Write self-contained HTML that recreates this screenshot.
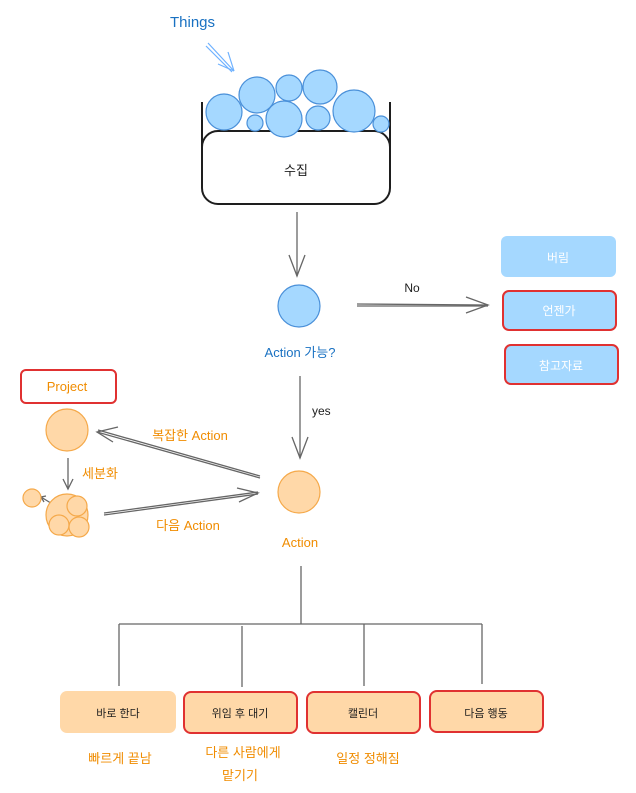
<!DOCTYPE html>
<html><head><meta charset="utf-8"><style>
html,body{margin:0;padding:0;background:#fff;}
svg{display:block;}
text{font-family:"Liberation Sans","Noto Sans CJK KR",sans-serif;}
</style></head><body>
<svg width="636" height="793" viewBox="0 0 636 793" xmlns="http://www.w3.org/2000/svg">
<!-- Things -->
<text x="170" y="27" font-size="15" fill="#1971c2">Things</text>
<g stroke="#4a9eff" stroke-width="1.2" fill="none" opacity="0.8">
<line x1="208" y1="43" x2="234" y2="71"/><line x1="206" y1="46" x2="232" y2="72"/>
<line x1="228" y1="52" x2="234" y2="71"/><line x1="218" y1="64" x2="234" y2="71"/>
</g>
<!-- container -->
<g stroke="#1e1e1e" stroke-width="2" fill="none">
<line x1="202" y1="102" x2="202" y2="150"/>
<line x1="390" y1="102" x2="390" y2="150"/>
<rect x="202" y="131" width="188" height="73" rx="16" fill="#fff"/>
</g>
<text x="296" y="175" font-size="13" text-anchor="middle" fill="#1e1e1e">수집</text>
<g fill="#a5d8ff" stroke="#4a90d9" stroke-width="1.2">
<circle cx="224" cy="112" r="18"/>
<circle cx="257" cy="95" r="18"/>
<circle cx="289" cy="88" r="13"/>
<circle cx="320" cy="87" r="17"/>
<circle cx="255" cy="123" r="8"/>
<circle cx="284" cy="119" r="18"/>
<circle cx="318" cy="118" r="12"/>
<circle cx="354" cy="111" r="21"/>
<circle cx="381" cy="124" r="8"/>
</g>
<!-- arrow down -->
<g stroke="#666" stroke-width="1.3" fill="none">
<line x1="297" y1="212" x2="297" y2="276"/>
<polyline points="289,255 297,276 305,255"/>
<line x1="300" y1="376" x2="300" y2="458"/>
<polyline points="292,437 300,458 308,437"/>
<line x1="357" y1="304" x2="488" y2="305"/><line x1="357" y1="306" x2="488" y2="306"/>
<polyline points="466,297 488,305 466,313"/>
<!-- complex action arrow -->
<line x1="260" y1="478" x2="97" y2="432"/><line x1="260" y1="476" x2="98" y2="430"/>
<polyline points="118,427 97,432 113,442"/>
<!-- next action arrow -->
<line x1="104" y1="515" x2="258" y2="494"/><line x1="104" y1="513" x2="258" y2="492"/>
<polyline points="237,488 258,493 239,502"/>
<!-- 세분화 -->
<line x1="68" y1="458" x2="68" y2="489"/>
<polyline points="63,479 68,489 73,479"/>
<line x1="54" y1="505" x2="41" y2="497"/>
<polyline points="46,496 41,497 44,502"/>
<!-- tree -->
<line x1="301" y1="566" x2="301" y2="624"/>
<line x1="119" y1="624" x2="482" y2="624"/>
<line x1="119" y1="624" x2="119" y2="686"/>
<line x1="242" y1="626" x2="242" y2="687"/>
<line x1="364" y1="624" x2="364" y2="686"/>
<line x1="482" y1="624" x2="482" y2="684"/>
</g>
<text x="412" y="292" font-size="12" fill="#1e1e1e" text-anchor="middle">No</text>
<text x="312" y="415" font-size="12" fill="#1e1e1e">yes</text>
<!-- action? circle -->
<circle cx="299" cy="306" r="21" fill="#a5d8ff" stroke="#4a90d9" stroke-width="1.2"/>
<text x="300" y="357" font-size="13" fill="#1971c2" text-anchor="middle">Action 가능?</text>
<!-- right boxes -->
<rect x="501" y="236" width="115" height="41" rx="6" fill="#a5d8ff"/>
<text x="558" y="262" font-size="12" fill="#fff" text-anchor="middle">버림</text>
<rect x="503" y="291" width="113" height="39" rx="6" fill="#a5d8ff" stroke="#e03131" stroke-width="2"/>
<text x="559" y="315" font-size="12" fill="#fff" text-anchor="middle">언젠가</text>
<rect x="505" y="345" width="113" height="39" rx="6" fill="#a5d8ff" stroke="#e03131" stroke-width="2"/>
<text x="561" y="370" font-size="12" fill="#fff" text-anchor="middle">참고자료</text>
<!-- project -->
<rect x="21" y="370" width="95" height="33" rx="5" fill="none" stroke="#e03131" stroke-width="2"/>
<text x="67" y="391" font-size="13" fill="#f08c00" text-anchor="middle">Project</text>
<g fill="#ffd8a8" stroke="#f5a94a" stroke-width="1.2">
<circle cx="67" cy="430" r="21"/>
<circle cx="32" cy="498" r="9"/>
<circle cx="67" cy="515" r="21"/>
<circle cx="77" cy="506" r="10"/>
<circle cx="59" cy="525" r="10"/>
<circle cx="79" cy="527" r="10"/>
<circle cx="299" cy="492" r="21"/>
</g>
<text x="190" y="440" font-size="13" fill="#f08c00" text-anchor="middle">복잡한 Action</text>
<text x="100" y="478" font-size="13" fill="#f08c00" text-anchor="middle">세분화</text>
<text x="188" y="530" font-size="13" fill="#f08c00" text-anchor="middle">다음 Action</text>
<text x="300" y="547" font-size="13" fill="#f08c00" text-anchor="middle">Action</text>
<!-- bottom boxes -->
<rect x="60" y="691" width="116" height="42" rx="7" fill="#ffd8a8"/>
<text x="118" y="717" font-size="11" fill="#1e1e1e" text-anchor="middle">바로 한다</text>
<rect x="184" y="692" width="113" height="41" rx="7" fill="#ffd8a8" stroke="#e03131" stroke-width="2"/>
<text x="240" y="717" font-size="11" fill="#1e1e1e" text-anchor="middle">위임 후 대기</text>
<rect x="307" y="692" width="113" height="41" rx="7" fill="#ffd8a8" stroke="#e03131" stroke-width="2"/>
<text x="363" y="717" font-size="11" fill="#1e1e1e" text-anchor="middle">캘린더</text>
<rect x="430" y="691" width="113" height="41" rx="7" fill="#ffd8a8" stroke="#e03131" stroke-width="2"/>
<text x="486" y="717" font-size="11" fill="#1e1e1e" text-anchor="middle">다음 행동</text>
<text x="120" y="763" font-size="13" fill="#f08c00" text-anchor="middle">빠르게 끝남</text>
<text x="243" y="757" font-size="13" fill="#f08c00" text-anchor="middle">다른 사람에게</text>
<text x="240" y="780" font-size="13" fill="#f08c00" text-anchor="middle">맡기기</text>
<text x="368" y="763" font-size="13" fill="#f08c00" text-anchor="middle">일정 정해짐</text>
</svg>
</body></html>
